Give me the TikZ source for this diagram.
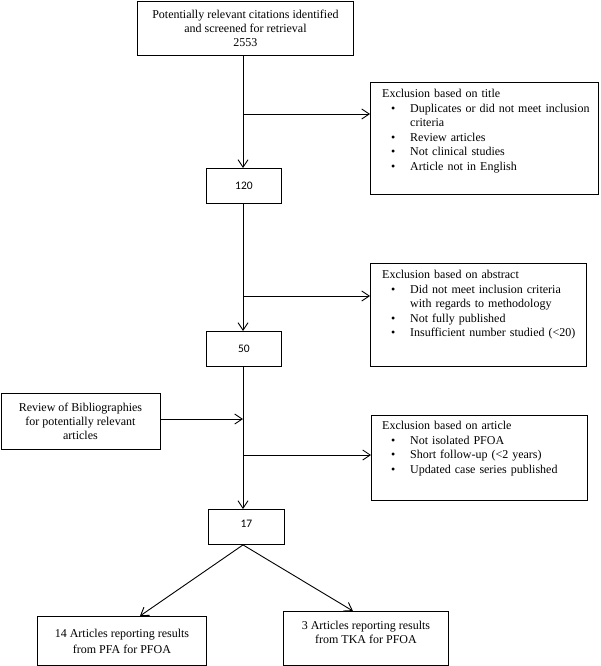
\documentclass[tikz,border=0pt]{standalone}
\usepackage{fontspec}
\setmainfont{Liberation Serif}
\newfontfamily\numfont{Carlito}
\usetikzlibrary{arrows.meta}
\newcommand\bitem{\par\hangindent=28pt\hangafter=1\noindent\hspace*{9pt}\makebox[19pt][l]{\textbullet}}
\begin{document}
\begin{tikzpicture}[x=1pt,y=-1pt,
  box/.style={draw, line width=0.9pt, inner sep=0pt, anchor=north west, align=center,
              font=\fontsize{12}{14}\selectfont},
  numbox/.style={box, font=\numfont\fontsize{11.5}{13}\selectfont},
  txt/.style={inner sep=0pt, anchor=north west, align=left,
              font=\fontsize{12}{14.6}\selectfont},
  conn/.style={line width=0.9pt, -{Straight Barb[length=7.5pt,width=10pt,line width=0.9pt]}}]
\useasboundingbox[fill=white] (0,0) rectangle (600,666);

% main boxes
\node[box, minimum width=216pt, minimum height=54pt] (top) at (137,1)
  {Potentially relevant citations identified\\ and screened for retrieval\\ 2553};
\node[numbox, minimum width=75pt, minimum height=35pt] (b120) at (206,168) {120};
\node[numbox, minimum width=75pt, minimum height=35pt] (b50) at (206,331) {50};
\node[numbox, minimum width=76pt, minimum height=35pt] (b17) at (208,509) {17\\[-6pt]\mbox{}};
\node[box, minimum width=159pt, minimum height=56pt] (review) at (0.5,393)
  {Review of Bibliographies\\ for potentially relevant\\ articles};
\node[box, minimum width=169pt, minimum height=49pt] (pfa) at (37,616)
  {14 Articles reporting results\\[2pt] from PFA for PFOA};
\node[box, minimum width=165pt, minimum height=54pt] (tka) at (283,611)
  {3 Articles reporting results\\ from TKA for PFOA\\[-2pt]\mbox{}};

% exclusion boxes
\node[box, minimum width=228pt, minimum height=112pt] (title) at (370,82) {};
\node[txt, text width=215pt] (titletxt) at ([xshift=12pt,yshift=-7pt]title.north west)
  {Exclusion based on title\bitem Duplicates or did not meet inclusion\newline criteria\bitem Review articles\bitem Not clinical studies\bitem Article not in English};
\node[box, minimum width=216pt, minimum height=103pt] (abstract) at (370,263) {};
\node[txt, text width=205pt] (abstracttxt) at ([xshift=12pt,yshift=-7pt]abstract.north west)
  {Exclusion based on abstract\bitem Did not meet inclusion criteria\newline with regards to methodology\bitem Not fully published\bitem Insufficient number studied (<20)};
\node[box, minimum width=216pt, minimum height=85pt] (article) at (371,415) {};
\node[txt, text width=205pt] (articletxt) at ([xshift=11pt,yshift=-6pt]article.north west)
  {Exclusion based on article\bitem Not isolated PFOA\bitem Short follow-up (<2 years)\bitem Updated case series published};

% junctions
\coordinate (j1) at (243,114);
\coordinate (j2) at (243,296);
\coordinate (j3) at (243,419);
\coordinate (j4) at (243,455);

% connectors
\draw[conn] (top.south -| j1) -- (b120.north -| j1);
\draw[conn] (j1) -- (j1 -| title.west);
\draw[conn] (b120.south -| j1) -- (b50.north -| j1);
\draw[conn] (j2) -- (j2 -| abstract.west);
\draw[conn] (b50.south -| j1) -- (b17.north -| j1);
\draw[conn] (j3 -| review.east) -- (j3);
\draw[conn] (j4) -- (j4 -| article.west);
\draw[conn] (b17.south -| j1) -- ([xshift=18pt]pfa.north);
\draw[conn] (b17.south -| j1) -- ([xshift=-13pt]tka.north);
\end{tikzpicture}
\end{document}
